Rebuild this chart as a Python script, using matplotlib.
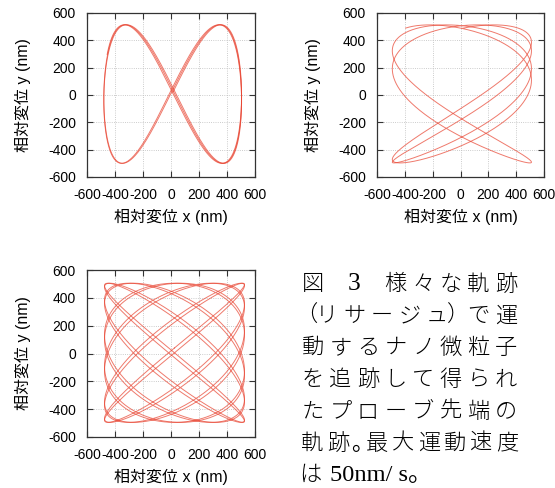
import numpy as np
import matplotlib
matplotlib.use('Agg')
import matplotlib.pyplot as plt

plt.rcParams['axes.unicode_minus'] = False

# Lissajous trajectories (nm)
x_amp = [492, 500, 500]
y_amp = [507, 505, 500]
x_off = [12, 10, 25]
y_off = [7, 8, 5]
x_freq = [1, 3, 6]
y_freq = [2, 2, 5]
# each panel is traced a few times with a slightly drifting phase
y_phase = [[0.06, 0.10, 0.02], [1.42, 1.25], [0.0, 0.07]]
pass_len = [[1.0, 1.0, 0.7], [1.0, 0.55], [1.0, 1.0]]

ticks = [-600, -400, -200, 0, 200, 400, 600]
xlabel = '相対変位 x (nm)'
ylabel = '相対変位 y (nm)'

caption = ['図　3　様々な軌跡',
           '（リサージュ）で運',
           '動するナノ微粒子',
           'を追跡して得られ',
           'たプローブ先端の',
           '軌跡。最大運動速度']
caption_last = ['は', '50nm/ s。']

W, H = 555, 488
fig = plt.figure(figsize=(W / 100, H / 100), dpi=100)
lab_font = ['Liberation Sans', 'Noto Sans CJK JP']

# axes boxes in pixels: left, top, right, bottom
boxes = [(87, 13, 255, 177), (377, 13, 544, 177), (87, 270, 255, 437)]

for k, (l, tp, r, b) in enumerate(boxes):
    ax = fig.add_axes([l / W, 1 - b / H, (r - l) / W, (b - tp) / H])
    for ph, frac in zip(y_phase[k], pass_len[k]):
        t = np.linspace(0, 2 * np.pi * frac, 3000)
        x = x_off[k] + x_amp[k] * np.sin(x_freq[k] * t)
        y = y_off[k] + y_amp[k] * np.sin(y_freq[k] * t + ph)
        ax.plot(x, y, color='#e8412e', lw=0.7, alpha=0.7)
    ax.set_xlim(-600, 600)
    ax.set_ylim(-600, 600)
    ax.set_xticks(ticks)
    ax.set_yticks(ticks)
    ax.grid(True, linestyle=':', color='#bbbbbb', lw=0.6)
    ax.tick_params(direction='in', top=True, right=True, length=4,
                   width=0.8, color='#333333', labelsize=10, pad=8)
    for lbl in ax.get_xticklabels() + ax.get_yticklabels():
        lbl.set_family(lab_font)
    for s in ax.spines.values():
        s.set_color('#333333')
        s.set_linewidth(0.9)
    ax.set_xlabel(xlabel, family=lab_font, fontsize=11.5, labelpad=5)
    ax.set_ylabel(ylabel, family=lab_font, fontsize=11.5, labelpad=12)

# caption, justified to the column width like the printed page
cap_left, cap_right = 299, 520
line0, line_step = 282, 31.8
base_drop = 8.5
cap_size = 16


def weight(ch):
    if ch in '（）。' or ch.isascii():
        return 0.5
    if ch == '　':
        return 0.75
    return 1.0


for i, line in enumerate(caption):
    ws = [weight(c) for c in line]
    cell = (cap_right - cap_left) / sum(ws)
    pos = cap_left
    yb = line0 + i * line_step + base_drop
    for c, w in zip(line, ws):
        if c == '。':
            fig.text(pos / W, 1 - yb / H, c, ha='left', va='baseline',
                     fontsize=cap_size, family=['Noto Sans CJK JP'])
        elif c != '　':
            fam = ['Liberation Serif', 'Noto Sans CJK JP'] if c.isascii() else ['Noto Sans CJK JP']
            size = cap_size * 1.15 if c.isascii() else cap_size
            fig.text((pos + w * cell / 2) / W, 1 - yb / H, c, ha='center',
                     va='baseline', fontsize=size, family=fam,
                     fontweight='light')
        pos += w * cell

yb = line0 + 6 * line_step + base_drop
fig.text(cap_left / W, 1 - yb / H, caption_last[0], ha='left', va='baseline',
         fontsize=cap_size, family=['Noto Sans CJK JP'], fontweight='light')
fig.text(330 / W, 1 - yb / H, caption_last[1], ha='left', va='baseline',
         fontsize=cap_size * 1.1, family=['Liberation Serif', 'Noto Sans CJK JP'])

fig.savefig('out.png', dpi=100)
